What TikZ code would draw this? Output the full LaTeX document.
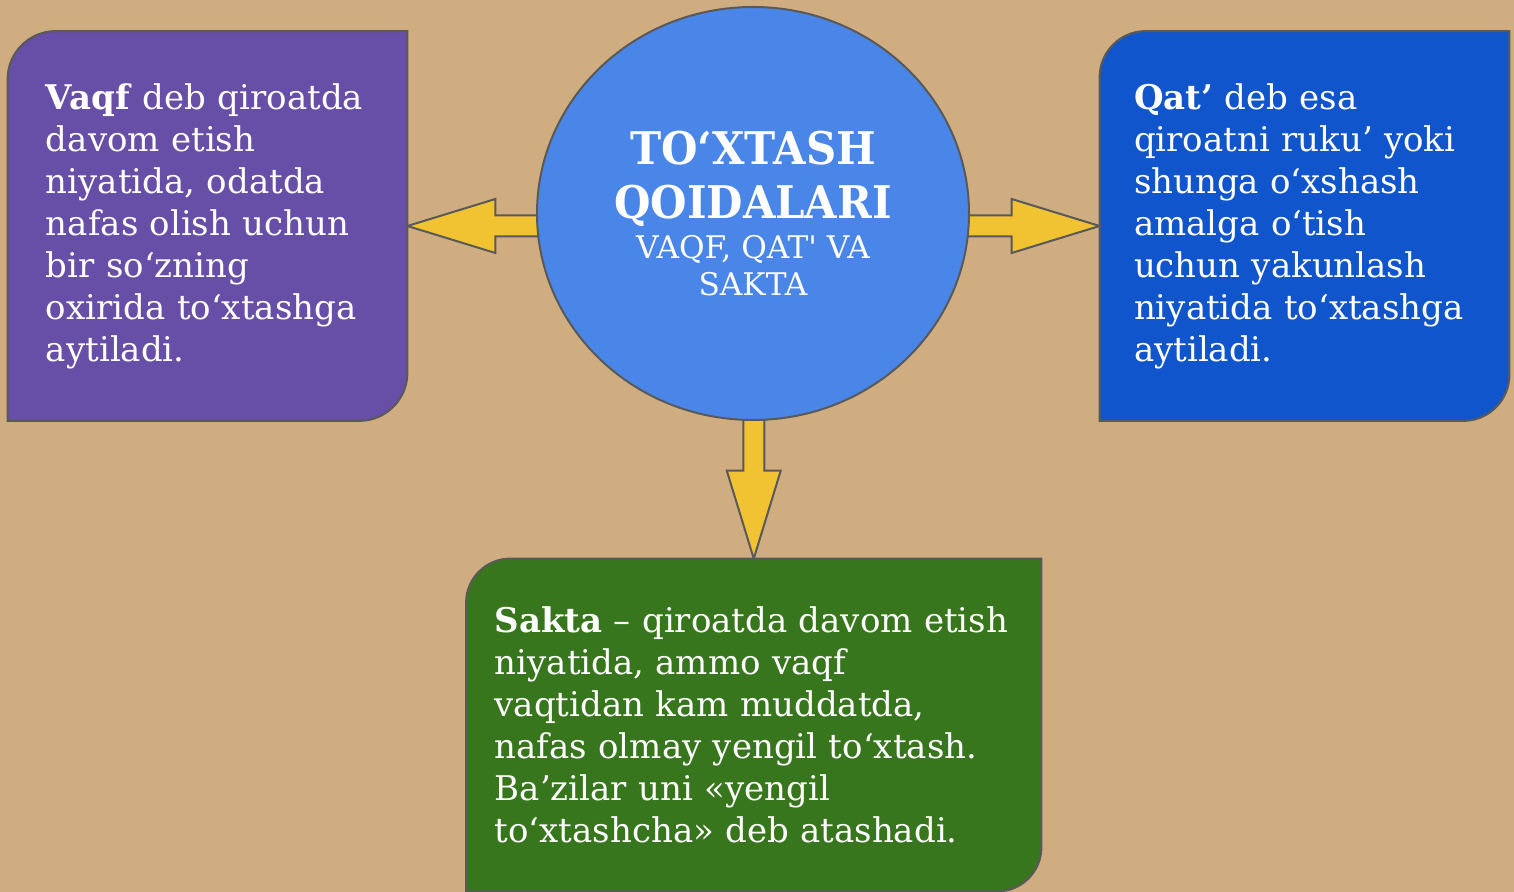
\documentclass[tikz,border=0pt]{standalone}
\usepackage{fontspec}
\setmainfont{DejaVu Serif}
\newfontfamily\titlefont[FakeStretch=0.93]{DejaVu Serif}
\newfontfamily\subfont[Ligatures=TeXOff]{DejaVu Serif}
\usepackage{tikz}
\usetikzlibrary{calc,positioning,shapes.geometric}
\definecolor{qdpaper}{RGB}{207,173,128}
\definecolor{qdpurple}{RGB}{103,78,167}
\definecolor{qdsky}{RGB}{74,134,232}
\definecolor{qdblue}{RGB}{17,85,204}
\definecolor{qdgreen}{RGB}{56,118,29}
\definecolor{qdgold}{RGB}{241,194,50}
\definecolor{qdline}{RGB}{89,89,89}
\pgfdeclarelayer{paper}
\pgfdeclarelayer{shapes}
\pgfsetlayers{paper,shapes,main}
\newcommand\titletext{\titlefont\bfseries\fontsize{22.5pt}{27pt}\selectfont}
\newcommand\subtext{\subfont\fontsize{15.6pt}{18.5pt}\selectfont}
\newcommand\leafshape[3]{%
  \filldraw[draw=qdline,line width=1pt,fill=#2]
    ([yshift=-#3pt]#1.north west)
    .. controls ([yshift=-.45*#3pt]#1.north west) and ([xshift=.45*#3pt]#1.north west)
    .. ([xshift=#3pt]#1.north west) -- (#1.north east) -- ([yshift=#3pt]#1.south east)
    .. controls ([yshift=.45*#3pt]#1.south east) and ([xshift=-.45*#3pt]#1.south east)
    .. ([xshift=-#3pt]#1.south east) -- (#1.south west) -- cycle;}
\newcommand\fatarrow[2]{%
  \path ($(#2)!44pt!(#1)$) coordinate (hb);
  \draw[fatlink] (#2) -- ($(hb)!13.5pt!90:(#2)$) -- ($(hb)!5.25pt!90:(#2)$)
    -- ($(#1)!5.25pt!90:(#2)$) -- ($(#1)!5.25pt!-90:(#2)$)
    -- ($(hb)!5.25pt!-90:(#2)$) -- ($(hb)!13.5pt!-90:(#2)$) -- cycle;}

\begin{document}
\begin{tikzpicture}[x=.5pt,y=-.5pt,
    leaf/.style={inner sep=0pt,text=white,align=left,font=\fontsize{17pt}{21pt}\selectfont},
    fatlink/.style={draw=qdline,line width=1pt,fill=qdgold,line join=miter}]
  \useasboundingbox (0,0) rectangle (1514,892);
  \node[ellipse,draw=qdline,line width=1pt,fill=qdsky,inner sep=0pt,
    minimum width=216pt,minimum height=206.5pt,text=white,align=center,font=\subtext]
    (toxtash) at (753,213.5)
    {\titletext TO‘XTASH\\[8.5pt]\titletext QOIDALARI\\[1.5pt]\subtext VAQF, QAT' VA\\\subtext SAKTA};
  \node[leaf,text width=161.5pt,minimum width=199.5pt,minimum height=194.5pt] (vaqf) at (207.5,226)
    {\textbf{Vaqf} deb qiroatda\\davom etish\\niyatida, odatda\\nafas olish uchun\\bir so‘zning\\oxirida to‘xtashga\\aytiladi.};
  \node[leaf,text width=170.5pt,minimum width=204.5pt,minimum height=194.5pt] (qat) at (1304.5,226)
    {\textbf{Qat’} deb esa\\qiroatni ruku’ yoki\\shunga o‘xshash\\amalga o‘tish\\uchun yakunlash\\niyatida to‘xtashga\\aytiladi.};
  \node[leaf,text width=259pt,minimum width=287.25pt,minimum height=166pt] (sakta) at (753.75,725)
    {\textbf{Sakta} – qiroatda davom etish\\niyatida, ammo vaqf\\vaqtidan kam muddatda,\\nafas olmay yengil to‘xtash.\\Ba’zilar uni «yengil\\to‘xtashcha» deb atashadi.};
  \begin{pgfonlayer}{shapes}
    \leafshape{vaqf}{qdpurple}{24}
    \leafshape{qat}{qdblue}{23}
    \leafshape{sakta}{qdgreen}{22}
    \fatarrow{toxtash.center |- vaqf.east}{vaqf.east}
    \fatarrow{toxtash.center |- qat.west}{qat.west}
    \fatarrow{toxtash.center -| sakta.north}{sakta.north}
  \end{pgfonlayer}
  \begin{pgfonlayer}{paper}
    \fill[qdpaper] (0,0) rectangle (1514,892);
  \end{pgfonlayer}
\end{tikzpicture}
\end{document}
